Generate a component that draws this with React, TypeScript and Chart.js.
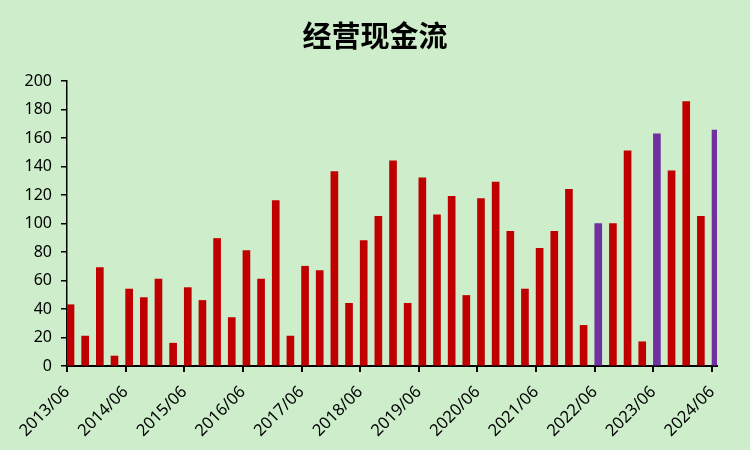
import React, { useEffect, useRef } from 'react';
import { Chart, registerables } from 'chart.js';

Chart.register(...registerables);

const quarters = [
  '2013/06', '2013/09', '2013/12', '2014/03',
  '2014/06', '2014/09', '2014/12', '2015/03',
  '2015/06', '2015/09', '2015/12', '2016/03',
  '2016/06', '2016/09', '2016/12', '2017/03',
  '2017/06', '2017/09', '2017/12', '2018/03',
  '2018/06', '2018/09', '2018/12', '2019/03',
  '2019/06', '2019/09', '2019/12', '2020/03',
  '2020/06', '2020/09', '2020/12', '2021/03',
  '2021/06', '2021/09', '2021/12', '2022/03',
  '2022/06', '2022/09', '2022/12', '2023/03',
  '2023/06', '2023/09', '2023/12', '2024/03',
  '2024/06',
];

const cashFlow = [
  43, 21, 69, 7,
  54, 48, 61, 16,
  55, 46, 89.5, 34,
  81, 61, 116, 21,
  70, 67, 136.5, 44,
  88, 105, 144, 44,
  132, 106, 119, 49.5,
  117.5, 129, 94.5, 54,
  82.5, 94.5, 124, 28.5,
  100, 100, 151, 17,
  163, 137, 185.5, 105,
  165.5,
];

const highlighted = ['2022/06', '2023/06', '2024/06'];

const tickLabels = [
  '2013/06', '2014/06', '2015/06', '2016/06', '2017/06', '2018/06',
  '2019/06', '2020/06', '2021/06', '2022/06', '2023/06', '2024/06',
];

const yTicks = [0, 20, 40, 60, 80, 100, 120, 140, 160, 180, 200];

const TITLE = '经营现金流';
const RED = '#c00000';
const PURPLE = '#7030a0';
const BG = '#cdedcb';
const TICK_SHIFT = 0.239;

const titlePlugin = {
  id: 'centeredTitle',
  afterDraw(chart: any) {
    const ctx = chart.ctx;
    ctx.save();
    ctx.fillStyle = '#000';
    ctx.font = 'bold 29px "Noto Sans CJK SC"';
    ctx.textAlign = 'center';
    ctx.textBaseline = 'middle';
    ctx.fillText(TITLE, chart.width / 2, 36);
    ctx.restore();
  },
};

export default function App() {
  const ref = useRef<HTMLCanvasElement | null>(null);

  useEffect(() => {
    if (!ref.current) return;
    const chart = new Chart(ref.current, {
      type: 'bar',
      data: {
        datasets: [
          {
            data: quarters.map((q, i) => ({ x: i, y: cashFlow[i] })),
            backgroundColor: quarters.map((q) => (highlighted.includes(q) ? PURPLE : RED)),
            borderWidth: 0,
            barThickness: 7,
          },
        ],
      },
      plugins: [titlePlugin],
      options: {
        animation: false,
        responsive: false,
        layout: { padding: { top: 81, right: 33, left: 0, bottom: 0 } },
        plugins: {
          legend: { display: false },
          tooltip: { enabled: false },
          title: { display: false },
        },
        scales: {
          x: {
            type: 'linear',
            offset: false,
            min: -TICK_SHIFT,
            max: 44.1,
            afterBuildTicks: (s: any) => {
              s.ticks = tickLabels.map((l) => ({ value: quarters.indexOf(l) - TICK_SHIFT }));
            },
            afterFit: (s: any) => {
              s.height = 84;
            },
            grid: { offset: false, drawOnChartArea: false, drawTicks: true, tickLength: 6, color: '#000', lineWidth: 2 },
            border: { color: '#000', width: 2 },
            ticks: {
              autoSkip: false,
              minRotation: 45,
              maxRotation: 45,
              padding: 8,
              color: '#000',
              font: { family: 'Noto Sans', size: 16.5, lineHeight: 1.6 },
              callback: (_v: any, i: number) => tickLabels[i],
            },
          },
          y: {
            min: 0,
            max: 200,
            afterBuildTicks: (s: any) => {
              s.ticks = yTicks.map((v) => ({ value: v }));
            },
            afterFit: (s: any) => {
              s.width = 67;
            },
            grid: { drawOnChartArea: false, drawTicks: true, tickLength: 6, color: '#000', lineWidth: 1.5 },
            border: { color: '#000', width: 1.5 },
            ticks: { padding: 9, color: '#000', font: { family: 'Noto Sans', size: 16 } },
          },
        },
      },
    });
    return () => chart.destroy();
  }, []);

  return (
    <div style={{ position: 'absolute', left: 0, top: 0, width: 750, height: 450, background: BG }}>
      <canvas ref={ref} width={750} height={450} style={{ display: 'block' }} />
    </div>
  );
}
